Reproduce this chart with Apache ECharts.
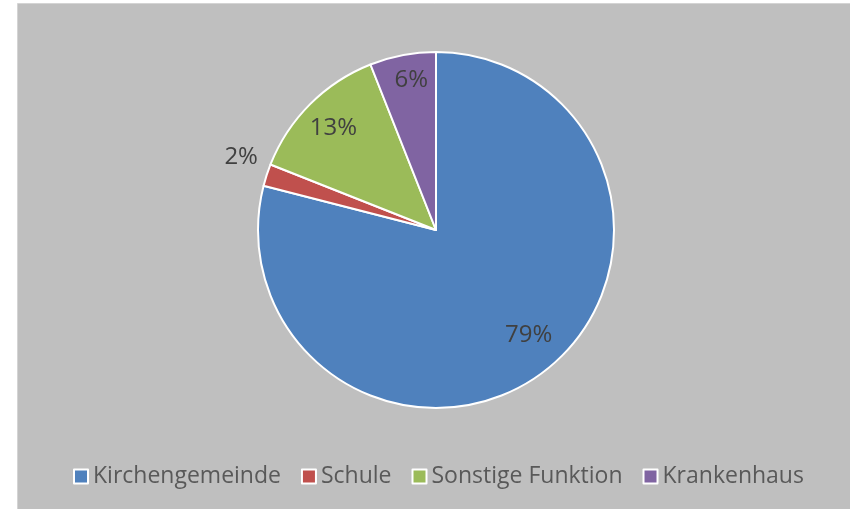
<!DOCTYPE html>
<html>
<head>
<meta charset="utf-8">
<script src="https://cdn.jsdelivr.net/npm/echarts@6/dist/echarts.min.js"></script>
<style>
  html, body { margin: 0; padding: 0; background: #ffffff; }
  #chart { width: 850px; height: 509px; }
</style>
</head>
<body>
<div id="chart"></div>
<script>
  const categories = ['Kirchengemeinde', 'Schule', 'Sonstige Funktion', 'Krankenhaus'];
  const shares = [79, 2, 13, 6]; // Prozent
  const colors = ['#4f81bd', '#c0504d', '#9bbb59', '#8064a2'];

  const font = 'Open Sans';
  const pieCenter = [436, 230];
  const pieRadius = 178;

  // kleine Korrekturen, damit die Beschriftung wie bei Excel "beste Anpassung" sitzt
  const labelShift = {
    Kirchengemeinde: [2, -12],
    Schule: [1, -16],
    'Sonstige Funktion': [2, 3],
    Krankenhaus: [3, -4],
  };

  const chart = echarts.init(document.getElementById('chart'));

  const option = {
    animation: false,
    textStyle: { fontFamily: font },
    color: colors,
    graphic: [
      {
        type: 'rect',
        z: -10,
        shape: { x: 17.5, y: 3.5, width: 840, height: 510 },
        style: { fill: '#bfbfbf', stroke: '#d4d4d4', lineWidth: 1 },
      },
    ],
    legend: {
      bottom: 16,
      left: 68,
      icon: 'rect',
      itemWidth: 14,
      itemHeight: 14,
      itemGap: 20,
      textStyle: { fontSize: 23, color: '#595959', fontFamily: font },
      data: categories,
    },
    series: [
      {
        type: 'pie',
        center: pieCenter,
        radius: pieRadius,
        startAngle: 90,
        clockwise: true,
        itemStyle: { borderColor: '#ffffff', borderWidth: 2 },
        emphasis: { disabled: true },
        label: { show: false },
        labelLine: { show: false },
        data: categories.map((name, i) => ({
          name,
          value: shares[i],
          label: name === 'Schule'
            ? { show: true, position: 'outside', formatter: '{c}%', fontSize: 24, color: '#404040', offset: labelShift[name] }
            : { show: false },
          labelLine: { show: false, length: 5, length2: 0 },
        })),
      },
      {
        // unsichtbarer Ring, nur für die Beschriftung innen
        type: 'pie',
        center: pieCenter,
        radius: [112, pieRadius],
        startAngle: 90,
        clockwise: true,
        silent: true,
        legendHoverLink: false,
        itemStyle: { color: 'rgba(0,0,0,0)', borderWidth: 0 },
        emphasis: { disabled: true },
        label: {
          show: true,
          position: 'inside',
          formatter: '{c}%',
          fontSize: 24,
          color: '#404040',
        },
        labelLine: { show: false },
        data: categories.map((name, i) => ({
          name,
          value: shares[i],
          label: { show: name !== 'Schule', offset: labelShift[name] },
        })),
      },
    ],
  };

  chart.setOption(option);
</script>
</body>
</html>
